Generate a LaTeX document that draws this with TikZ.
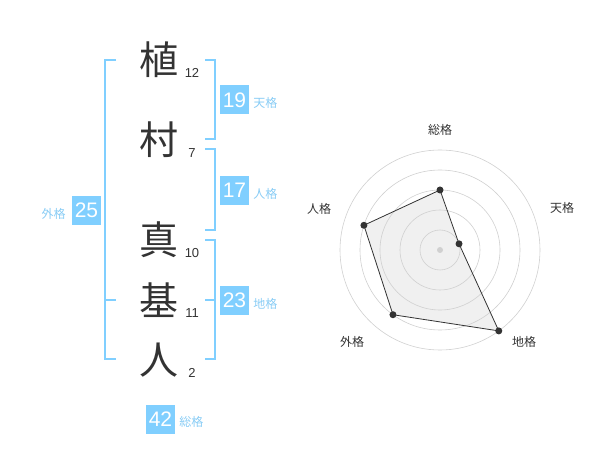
\documentclass[tikz,border=0pt]{standalone}
\usepackage{fontspec}
\setmainfont{Liberation Sans}
\newfontfamily\jp{Noto Sans CJK JP}
\usepackage{tikz}
\usetikzlibrary{positioning}

\definecolor{kakusky}{HTML}{80CFFF}
\definecolor{kakutxt}{HTML}{88CCF5}
\definecolor{inkgray}{HTML}{333333}
\definecolor{ringgray}{HTML}{D0D0D0}
\definecolor{areagray}{HTML}{F0F0F0}

\tikzset{
  kanji/.style={font=\jp\fontsize{39}{39}\selectfont, text=inkgray, inner sep=0pt},
  strokes/.style={font=\fontsize{13}{13}\selectfont, text=inkgray, inner sep=0pt},
  kakubox/.style={fill=kakusky, text=white, minimum size=29pt, inner sep=0pt, font=\fontsize{21}{21}\selectfont},
  kakuname/.style={font=\jp\fontsize{12}{12}\selectfont, text=kakutxt, inner sep=0pt},
  brace/.style={draw=kakusky, line width=2pt},
  axisname/.style={font=\jp\fontsize{12}{12}\selectfont, text=inkgray, inner sep=0pt},
  dot/.style={circle, fill=inkgray, inner sep=0pt, minimum size=7pt}
}

\begin{document}
\begin{tikzpicture}[x=1pt, y=-1pt]
            \useasboundingbox (0,0) rectangle (600,470);
            % name and stroke counts
            \node[kanji] (k1) at (159,60) {植};
            \node[kanji] (k2) at (159,140) {村};
            \node[kanji] (k3) at (159,240) {真};
            \node[kanji] (k4) at (159,300) {基};
            \node[kanji] (k5) at (159,360) {人};
            \node[strokes] (s1) at (192,73) {12};
            \node[strokes] (s2) at (192,153) {7};
            \node[strokes] (s3) at (192,253) {10};
            \node[strokes] (s4) at (192,313) {11};
            \node[strokes] (s5) at (192,373) {2};
            % brackets
            \draw[brace] (205,60) -- (215,60) -- (215,139) -- (205,139);
            \draw[brace] (205,149) -- (215,149) -- (215,230) -- (205,230);
            \draw[brace] (205,240) -- (215,240) -- (215,359) -- (205,359);
            \draw[brace] (205,300) -- (215,300);
            \draw[brace] (116,60) -- (105,60) -- (105,359) -- (116,359);
            \draw[brace] (105,300) -- (116,300);
            % scores
            \node[kakubox] (ten) at (234.5,100) {19};
            \node[kakubox] (jin) at (234.5,190.5) {17};
            \node[kakubox] (chi) at (234.5,300.5) {23};
            \node[kakubox] (gai) at (86.5,210.5) {25};
            \node[kakubox] (sou) at (160.5,419) {42};
            \node[kakuname, right=4pt of ten, yshift=-3pt] (tenname) {天格};
            \node[kakuname, right=4pt of jin, yshift=-3pt] (jinname) {人格};
            \node[kakuname, right=4pt of chi, yshift=-3pt] (chiname) {地格};
            \node[kakuname, left=6pt of gai, yshift=-3pt] (gainame) {外格};
            \node[kakuname, right=4pt of sou, yshift=-3pt] (souname) {総格};
            % radar chart
            \begin{scope}[shift={(440,250)}]
                \coordinate (rsou) at (-90:60);
                \coordinate (rten) at (-18:20);
                \coordinate (rchi) at (54:100);
                \coordinate (rgai) at (126:80);
                \coordinate (rjin) at (-162:80);
                \fill[areagray] (rsou) -- (rten) -- (rchi) -- (rgai) -- (rjin) -- cycle;
                \foreach \r in {20,40,60,80,100}
                    \draw[ringgray, line width=0.6pt] (0,0) circle[radius=\r pt];
                \draw[inkgray, line width=0.8pt]
                    (rsou) -- (rten) -- (rchi) -- (rgai) -- (rjin) -- cycle;
                \fill[ringgray] (0,0) circle[radius=3pt];
                \foreach \p in {rsou,rten,rchi,rgai,rjin}
                    \node[dot] at (\p) {};
                \node[axisname] (asou) at (0,-120) {総格};
                \node[axisname] (aten) at (122,-42) {天格};
                \node[axisname] (achi) at (84,92) {地格};
                \node[axisname] (agai) at (-88,92) {外格};
                \node[axisname] (ajin) at (-121,-41) {人格};
            \end{scope}
        \end{tikzpicture}
\end{document}
